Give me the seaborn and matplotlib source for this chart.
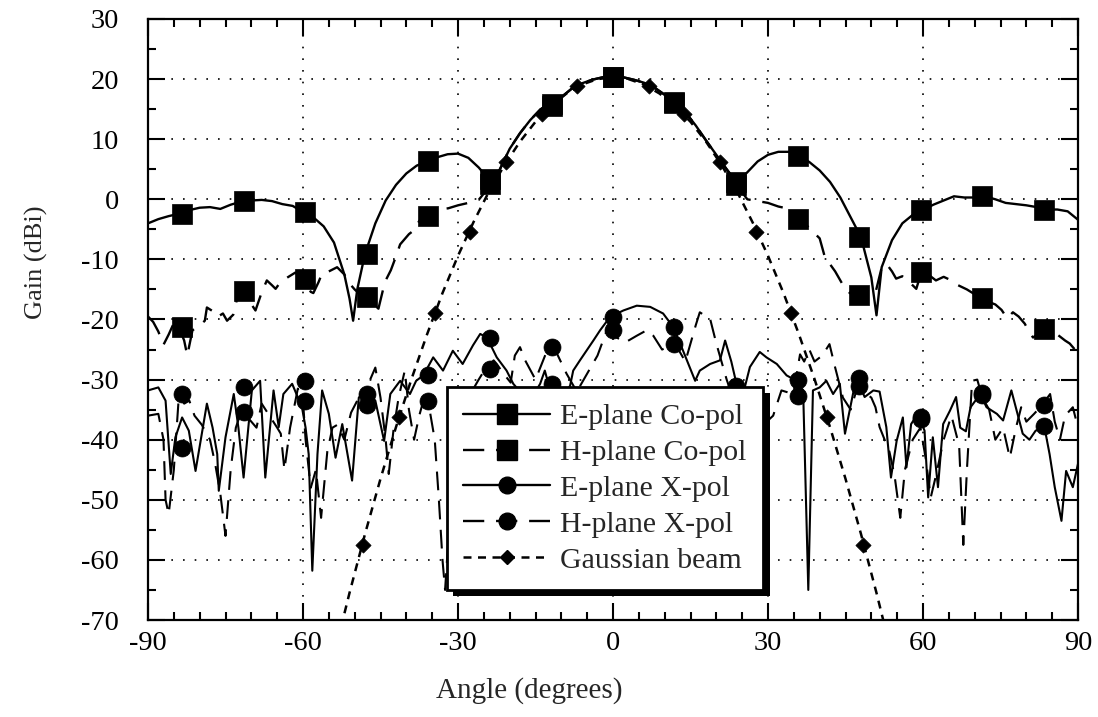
import numpy as np
import pandas as pd
import matplotlib
matplotlib.use("Agg")
import matplotlib.pyplot as plt
import matplotlib.patheffects as pe
from matplotlib.lines import Line2D
from matplotlib.ticker import MultipleLocator
import seaborn as sns

# ---------------- data ----------------
# E-plane co-pol (solid)
e_co_ang = [-90, -88, -86, -84, -82, -80, -78, -76, -74, -72, -70, -68, -66, -64, -62, -60, -58, -56,
            -54, -52, -51, -50.3, -49.5, -48, -46, -44, -42, -40, -38, -36, -34, -32, -30, -28, -26,
            -24, -22, -20, -18, -16, -14, -12, -10, -8, -6, -4, -2, 0, 2, 4, 6, 8, 10, 12, 14, 16, 18,
            20, 22, 24, 26, 28, 30, 32, 34, 36, 38, 40, 42, 44, 46, 48, 50, 51, 52, 54, 56, 58, 60, 62,
            64, 66, 68, 70, 72, 74, 76, 78, 80, 82, 84, 86, 88, 90]
e_co_val = [-4.0, -3.3, -2.8, -2.4, -1.8, -1.4, -1.3, -1.6, -0.9, -0.4, -0.2, -0.1, -0.3, -0.8, -1.1,
            -2.1, -3.0, -4.5, -7.2, -12.5, -16.5, -20.2, -15.0, -9.1, -4.0, -0.2, 2.4, 4.3, 5.6, 6.3,
            7.0, 7.5, 7.6, 6.9, 5.3, 3.3, 4.8, 8.4, 11.0, 13.2, 15.0, 15.8, 17.0, 18.4, 19.3, 19.9, 20.3,
            20.4, 20.3, 19.9, 19.4, 18.6, 17.4, 16.2, 14.5, 12.3, 9.8, 7.4, 5.0, 2.8, 4.5, 6.3, 7.4, 7.9,
            7.9, 7.2, 6.2, 4.8, 2.9, 0.3, -3.0, -6.3, -13.0, -19.3, -11.3, -6.8, -4.0, -2.6, -1.8, -0.9,
            -0.2, 0.5, 0.3, 0.3, 0.5, 0.0, -0.6, -0.8, -1.0, -1.3, -1.7, -1.7, -2.0, -3.4]

# H-plane co-pol (dashed)
h_co_ang = [-90, -89, -88, -87, -86, -85, -84, -83, -82.4, -81.4, -80, -79, -78.6, -77.5, -76.6, -75.5,
            -74.7, -73.5, -72.5, -71.5, -70.5, -69.2, -68, -67, -66, -65.3, -64.4, -63, -61.5, -60,
            -58.5, -58, -57, -56.3, -55, -53.4, -52, -51.2, -50, -49, -47.9, -46.6, -45.4, -44.5, -44,
            -43, -42, -41.2, -39.5, -38.6, -37.5, -36.4, -34.7, -33, -31.9, -30, -28, -26, -24.5, -23,
            -22, -20, -18, -16, -14, -12, -10, -8, -6, -4, -2, 0, 2, 4, 6, 8, 10, 12, 14, 16, 18, 20, 22,
            23, 24, 26, 28, 30, 32, 33.6, 35, 36.2, 38, 40, 41, 43, 44, 45, 46, 47.8, 49.4, 50.9, 51.9,
            52.9, 54, 54.8, 56, 57.4, 58.7, 59.7, 61, 62.5, 64, 65.5, 66.8, 68.5, 70, 71.3, 72.5, 74,
            75.2, 76.3, 77.4, 78.5, 79.7, 80.5, 81.3, 82.3, 83.2, 84.5, 86, 87.5, 88.4, 89.4, 90]
h_co_val = [-19.5, -20.4, -22.0, -24.2, -22.5, -20.6, -21.3, -23.5, -26.0, -21.8, -21.0, -20.2, -18.0,
            -18.6, -19.6, -19.0, -20.2, -19.2, -15.6, -15.2, -16.8, -18.5, -15.5, -13.5, -14.3, -14.9,
            -13.8, -13.0, -12.2, -13.2, -15.4, -15.6, -13.8, -12.3, -12.0, -11.3, -12.5, -13.8, -15.0,
            -15.8, -16.3, -17.2, -18.2, -15.0, -13.5, -11.8, -9.5, -7.5, -5.8, -5.2, -3.6, -2.7, -1.8,
            -1.6, -1.5, -1.0, -0.6, -0.1, 1.5, 3.3, 4.8, 8.4, 11.0, 13.2, 15.0, 15.7, 17.0, 18.4, 19.3,
            19.9, 20.3, 20.4, 20.3, 19.9, 19.4, 18.6, 17.4, 16.1, 14.5, 12.3, 9.8, 7.4, 5.0, 3.8, 2.3,
            0.0, -0.3, -0.6, -1.2, -1.5, -2.2, -3.2, -4.8, -6.5, -9.6, -12.0, -13.5, -15.0, -15.7,
            -16.0, -14.6, -15.2, -11.7, -10.7, -12.0, -13.2, -12.8, -13.8, -14.9, -12.1, -12.5, -13.5,
            -12.9, -13.5, -14.3, -15.0, -15.8, -16.4, -17.0, -17.5, -18.4, -19.8, -18.8, -19.5, -20.7,
            -22.0, -23.0, -22.4, -21.5, -21.6, -22.5, -23.5, -24.0, -25.0, -24.2]

# E-plane cross-pol (solid)
e_x_ang = [-90, -88, -86.6, -85.6, -84.7, -83.4, -82.1, -80.8, -78.6, -77.5, -76.6, -76.3, -75, -73.4,
           -72.5, -71.5, -69.9, -68.3, -67.3, -65.7, -64.7, -63.8, -62.1, -60.2, -59.5, -58.9, -58.2,
           -57.2, -56.3, -55, -53.7, -52.4, -51.4, -50.5, -49.2, -47.9, -46, -44.3, -43.1, -41.2,
           -39.3, -38.1, -36.7, -34.8, -32.9, -31, -29.1, -27.1, -25.7, -24.4, -22.5, -20.6, -19.3,
           -17, -15, -14.1, -13.2, -12.5, -11, -9, -8.3, -7.7, -6.4, -3.8, -2.5, -0.6, 2, 4.6, 7.2,
           9.7, 11.7, 13, 14.3, 15.9, 16.8, 18.8, 20.7, 21.7, 22.9, 23.9, 25, 26.5, 28.4, 29.7, 31.7,
           33.6, 35.5, 36.8, 37.8, 38.7, 40, 41.3, 42.6, 43.9, 44.9, 47.1, 48.7, 50.4, 51.6, 52.9,
           53.8, 54.9, 56.1, 56.8, 57.7, 59, 60.3, 61, 61.9, 62.9, 63.9, 65.2, 66.4, 67.2, 68.3, 69.2,
           71.1, 72.3, 74.3, 75.5, 77.1, 78.3, 79.3, 80.6, 81.8, 83.5, 84.5, 85.5, 86.8, 87.7, 89, 90]
e_x_val = [-31.8, -31.3, -33.5, -45.7, -39.6, -36.3, -38.5, -45.2, -34.0, -38.0, -42.4, -48.5, -39.6,
           -32.4, -38.0, -46.3, -31.8, -30.2, -46.3, -31.8, -37.9, -32.4, -30.7, -34.6, -38.0, -42.4,
           -61.8, -42.4, -31.8, -35.7, -43.0, -37.4, -42.4, -46.8, -33.0, -31.8, -33.5, -40.2, -32.4,
           -30.2, -32.4, -30.2, -29.3, -26.3, -28.5, -25.2, -27.4, -24.3, -22.4, -23.0, -26.3, -28.5,
           -30.7, -33.0, -32.0, -30.7, -28.5, -30.7, -33.0, -32.0, -31.0, -28.5, -26.8, -23.5, -21.8,
           -19.6, -18.5, -17.7, -17.9, -19.0, -21.3, -24.0, -26.8, -30.2, -28.5, -27.4, -26.8, -23.5,
           -27.0, -30.7, -33.0, -27.9, -25.4, -26.3, -27.4, -29.3, -30.2, -31.8, -65.0, -31.8, -31.3,
           -30.2, -32.4, -30.7, -39.0, -29.6, -32.9, -31.8, -32.0, -37.9, -46.3, -40.2, -36.3, -44.6,
           -37.4, -35.7, -38.5, -49.6, -39.6, -47.9, -37.4, -35.2, -32.9, -38.0, -38.6, -34.6, -32.4,
           -34.6, -35.7, -36.8, -31.8, -35.7, -39.0, -40.0, -38.5, -37.9, -42.4, -47.9, -53.5, -45.2,
           -47.9, -44.0]

# H-plane cross-pol (dashed)
h_x_ang = [-90, -88, -87, -86.6, -86, -85, -84, -83, -82, -81, -79.6, -78, -77, -76, -75, -74, -73, -72,
           -71, -70, -69, -68, -66.5, -65, -64.3, -63.6, -62.5, -61, -60, -59.5, -58.5, -57.5, -56.5,
           -55.3, -54.3, -53.3, -52, -50.7, -49.2, -48.3, -47, -46, -45, -44, -43.4, -42.5, -41.5,
           -40.3, -39.5, -38.5, -37.5, -36.7, -35.5, -34.5, -33.7, -33, -32.5, -31, -29, -27, -26,
           -24.7, -23.1, -22.5, -21.2, -19.8, -19, -18, -17, -15, -12.5, -11, -9, -7, -5, -3, -1.2,
           0.7, 2.4, 4.6, 6.5, 7.8, 9.5, 12, 14, 16, 16.8, 18.8, 20, 22, 26, 31, 32.6, 34.9, 36.2, 37,
           38, 39, 40.5, 41.9, 43, 44.5, 46, 47.4, 48.5, 50, 50.8, 51.6, 53.5, 54.5, 55.6, 56.5, 58,
           59.5, 60.5, 61.5, 62.5, 64, 65.5, 67, 67.8, 68.5, 69.5, 70.5, 71.5, 72.8, 74, 75.5, 76.8,
           78, 79, 80, 81.5, 83, 84.6, 85.5, 86.5, 87.5, 89, 90]
h_x_val = [-36.0, -35.7, -40.0, -50.0, -52.4, -45.0, -32.4, -34.0, -33.5, -36.0, -37.5, -40.0, -44.0,
           -49.0, -56.0, -45.0, -38.0, -35.4, -36.0, -37.0, -38.0, -34.0, -36.0, -38.0, -39.0, -45.0,
           -38.0, -31.5, -33.5, -40.0, -48.0, -45.0, -53.0, -42.0, -38.0, -37.5, -40.0, -35.5, -33.0,
           -34.3, -30.0, -28.0, -33.0, -40.0, -45.7, -38.5, -33.0, -28.5, -35.0, -40.0, -36.0, -33.5,
           -35.0, -40.0, -50.0, -60.0, -65.0, -45.0, -38.0, -31.5, -30.0, -28.2, -26.8, -27.4, -29.0,
           -30.5, -26.0, -24.6, -26.8, -30.0, -24.6, -25.4, -29.0, -32.0, -29.0, -26.0, -21.8, -23.0,
           -23.8, -22.7, -21.8, -22.7, -25.0, -24.0, -27.0, -21.0, -18.8, -19.9, -24.0, -30.0, -40.0,
           -36.0, -31.8, -32.4, -25.8, -27.0, -25.0, -27.0, -26.0, -24.1, -28.0, -33.0, -35.0, -31.0,
           -32.0, -33.0, -34.6, -37.9, -42.0, -46.0, -53.0, -45.0, -40.0, -38.0, -43.0, -49.6, -46.0,
           -40.0, -36.0, -41.0, -57.5, -45.0, -30.2, -30.0, -33.0, -35.0, -40.0, -38.0, -43.0, -38.0,
           -34.6, -37.0, -35.7, -34.3, -32.4, -37.0, -40.0, -36.0, -34.6, -38.0]

# Gaussian beam (dashed, diamonds)
g_ang = [-54, -51, -48, -45, -42, -39, -36, -33, -30, -27, -24, -21, -18, -15, -12, -9, -6, -3, 0,
         3, 6, 9, 12, 15, 18, 21, 24, 27, 30, 33, 36, 39, 42, 45, 48, 51, 54]
g_val = [-75.9, -65.5, -55.7, -46.5, -37.9, -29.9, -22.5, -15.6, -9.4, -3.8, 1.3, 5.7, 9.6, 12.9, 15.5,
         17.6, 19.1, 20.0, 20.3, 20.0, 19.1, 17.6, 15.5, 12.9, 9.6, 5.7, 1.3, -3.8, -9.4, -15.6, -22.5,
         -29.9, -37.9, -46.5, -55.7, -65.5, -75.9]

# marker positions
mk_ang = [-83.4, -71.5, -59.6, -47.7, -35.8, -23.8, -11.9, 0, 11.9, 23.8, 35.8, 47.7, 59.6, 71.5, 83.4]
e_co_mk = [-2.4, -0.3, -2.1, -9.1, 6.3, 3.3, 15.8, 20.4, 16.2, 2.8, 7.2, -6.3, -1.8, 0.5, -1.7]
h_co_mk = [-21.3, -15.2, -13.2, -16.3, -2.7, 2.5, 15.6, 20.3, 16.0, 2.3, -3.2, -16.0, -12.1, -16.4, -21.5]
e_x_mk = [-41.3, -31.3, -30.2, -32.4, -29.3, -23.0, -30.7, -19.6, -21.3, -31.0, -30.0, -29.8, -36.3, -32.3, -37.7]
h_x_mk = [-32.4, -35.4, -33.5, -34.3, -33.5, -28.2, -24.6, -21.8, -24.0, -35.0, -32.7, -31.0, -36.5, -32.6, -34.3]
g_mk_ang = [-48.3, -41.4, -34.5, -27.6, -20.7, -13.8, -6.9, 0, 6.9, 13.8, 20.7, 27.6, 34.5, 41.4, 48.3]
g_mk_val = [-57.5, -36.3, -19.0, -5.4, 6.2, 14.2, 18.8, 20.3, 18.8, 14.2, 6.2, -5.4, -19.0, -36.3, -57.5]

labels = ["E-plane Co-pol", "H-plane Co-pol", "E-plane X-pol", "H-plane X-pol", "Gaussian beam"]
x_ticks = [-90, -60, -30, 0, 30, 60, 90]
y_ticks = [-70, -60, -50, -40, -30, -20, -10, 0, 10, 20, 30]

# ---------------- style ----------------
sns.set_style("ticks")
plt.rcParams["font.family"] = ["Liberation Serif", "DejaVu Serif"]
plt.rcParams["axes.unicode_minus"] = False

fig = plt.figure(figsize=(10.98, 7.17), dpi=100)
ax = fig.add_axes([148 / 1098, 1 - 620 / 717, 930 / 1098, 601 / 717])

K = "black"
LW = 1.7
DASH = (0, (9, 5))
GDASH = (0, (3.2, 2.6))

def line(x, y, ls, lw=LW):
    df = pd.DataFrame({"x": x, "y": y})
    sns.lineplot(data=df, x="x", y="y", ax=ax, color=K, lw=lw, sort=False,
                 estimator=None, linestyle=ls, legend=False)

line(e_x_ang, e_x_val, "-", 1.5)
line(h_x_ang, h_x_val, DASH, 1.5)
line(g_ang, g_val, GDASH, 1.8)
line(h_co_ang, h_co_val, DASH)
line(e_co_ang, e_co_val, "-")

def marks(x, y, m, s):
    sns.scatterplot(x=x, y=y, ax=ax, marker=m, s=s, color=K, edgecolor=K, linewidth=0.5,
                    legend=False, zorder=4)

marks(mk_ang, e_x_mk, "o", 150)
marks(mk_ang, h_x_mk, "o", 150)
marks(g_mk_ang, g_mk_val, "D", 60)
marks(mk_ang, h_co_mk, "s", 200)
marks(mk_ang, e_co_mk, "s", 200)

ax.set_xlim(-90, 90)
ax.set_ylim(-70, 30)
ax.set_xticks(x_ticks)
ax.set_yticks(y_ticks)
ax.xaxis.set_minor_locator(MultipleLocator(5))
ax.yaxis.set_minor_locator(MultipleLocator(5))
ax.tick_params(which="both", direction="in", top=True, right=True, width=1.5, colors=K)
ax.tick_params(which="major", length=12)
ax.tick_params(which="minor", length=6)
ax.tick_params(axis="y", which="major", labelsize=20.5, pad=21)
ax.tick_params(axis="x", which="major", labelsize=20.5, pad=8)
for sp in ax.spines.values():
    sp.set_linewidth(1.6)
    sp.set_color(K)
ax.grid(True, which="major", color=K, linestyle=(0, (1, 6)), linewidth=1.2)

ax.set_xlabel("Angle (degrees)", fontsize=21)
ax.set_ylabel("Gain (dBi)", fontsize=19)
ax.xaxis.set_label_coords(0.41, -0.095)
ax.yaxis.set_label_coords(-0.108, 0.596)

handles = [
    Line2D([], [], color=K, lw=LW, ls="-", marker="s", ms=14),
    Line2D([], [], color=K, lw=LW, ls=DASH, marker="s", ms=14),
    Line2D([], [], color=K, lw=LW, ls="-", marker="o", ms=12),
    Line2D([], [], color=K, lw=LW, ls=DASH, marker="o", ms=12),
    Line2D([], [], color=K, lw=1.8, ls=GDASH, marker="D", ms=7.5),
]
leg = ax.legend(handles, labels, loc="upper left", bbox_to_anchor=(0.3215, 0.388),
                borderaxespad=0, fontsize=21.5, frameon=True, fancybox=False, framealpha=1,
                edgecolor=K, handlelength=2.9, handletextpad=0.35, labelspacing=0.3,
                borderpad=0.55, numpoints=1)
leg.set_zorder(10)
fr = leg.get_frame()
fr.set_linewidth(2.0)
fr.set_path_effects([pe.SimplePatchShadow(offset=(4.5, -4.5), shadow_rgbFace="black", alpha=1.0),
                     pe.Normal()])

fig.savefig("out.png", dpi=100)
